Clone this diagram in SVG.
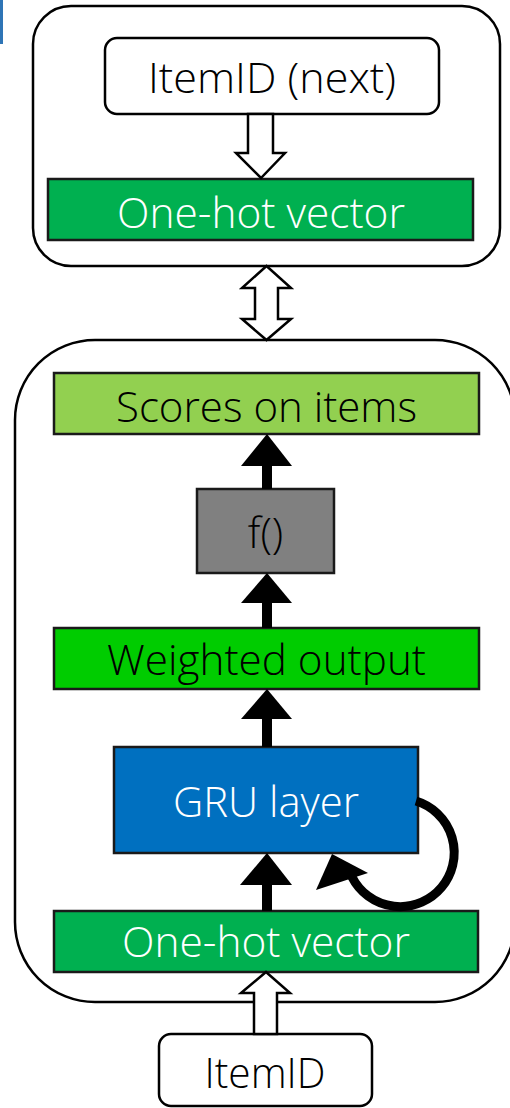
<svg xmlns="http://www.w3.org/2000/svg" width="510" height="1108" viewBox="0 0 510 1108">
<style>
.outer{fill:none;stroke:#000;stroke-width:2.5}
.box{stroke:#1a1a1a;stroke-width:2.5}
.wbox{fill:#fff;stroke:#000;stroke-width:2.5}
.t{font-family:"Open Sans","Liberation Sans",sans-serif;font-weight:300;font-size:42px;text-anchor:middle}
.w{fill:#fff}
.k{fill:#000}
.hollow{fill:#fff;stroke:#000;stroke-width:2.5;stroke-linejoin:miter}
.shaft{stroke:#000;stroke-width:10;fill:none}
.head{fill:#000}
</style>
<rect x="0" y="0" width="510" height="1108" fill="#fff"/>
<rect x="0" y="0" width="3" height="44" fill="#2e75b6"/>
<g id="outer-top"><rect class="outer" x="33" y="6" width="467" height="260" rx="38" ry="38"/></g>
<g id="outer-bottom"><rect class="outer" x="15" y="340" width="500" height="662" rx="80" ry="80"/></g>
<g id="itemid-next"><rect class="wbox" x="105" y="38" width="334" height="76" rx="12"/><text class="t k" x="272" y="93" textLength="248" lengthAdjust="spacingAndGlyphs">ItemID (next)</text></g>
<g id="onehot-top"><rect class="box" x="48" y="179" width="425" height="61" fill="#00b050"/><text class="t w" x="261" y="228" textLength="288" lengthAdjust="spacingAndGlyphs">One-hot vector</text></g>
<g id="scores"><rect class="box" x="54" y="373" width="425" height="61" fill="#92d050"/><text class="t k" x="266.5" y="422" textLength="301" lengthAdjust="spacingAndGlyphs">Scores on items</text></g>
<g id="f"><rect class="box" x="197" y="489" width="137" height="84" fill="#808080"/><text class="t k" x="265.5" y="548">f()</text></g>
<g id="weighted"><rect class="box" x="54" y="628" width="425" height="61" fill="#00cc00"/><text class="t k" x="266.5" y="675" textLength="319" lengthAdjust="spacingAndGlyphs">Weighted output</text></g>
<g id="gru"><rect class="box" x="114" y="747" width="304" height="106" fill="#0070c0"/><text class="t w" x="266" y="817" textLength="186" lengthAdjust="spacingAndGlyphs">GRU layer</text></g>
<g id="onehot-bottom"><rect class="box" x="54" y="911" width="424" height="61" fill="#00b050"/><text class="t w" x="266" y="957" textLength="288" lengthAdjust="spacingAndGlyphs">One-hot vector</text></g>
<g id="itemid"><rect class="wbox" x="159" y="1034" width="213" height="72" rx="12"/><text class="t k" x="265" y="1088" textLength="121" lengthAdjust="spacingAndGlyphs">ItemID</text></g>
<g id="connectors">
<polygon class="hollow" points="248,114 273,114 273,153 285,153 261,178 236,153 248,153"/>
<polygon class="hollow" points="266.5,266 291,288 278,288 278,319 291,319 266.5,340 242,319 255,319 255,288 242,288"/>
<polygon class="hollow" points="266,972 290,993 277,993 277,1034 254,1034 254,993 241,993"/>
<line class="shaft" x1="267" y1="489" x2="267" y2="460"/>
<polygon class="head" points="267,434 292,466 241,466"/>
<line class="shaft" x1="267" y1="628" x2="267" y2="598"/>
<polygon class="head" points="267,573 292,603 241,603"/>
<line class="shaft" x1="267" y1="747" x2="267" y2="714"/>
<polygon class="head" points="267,689 292,719 241,719"/>
<line class="shaft" x1="267" y1="911" x2="267" y2="878"/>
<polygon class="head" points="267,853 292,885 240,885"/>
<path d="M 416 801 A 54 54 0 1 1 352 877" fill="none" stroke="#000" stroke-width="9"/>
<polygon class="head" points="332,854 368,873 316,890"/>
</g>
</svg>
